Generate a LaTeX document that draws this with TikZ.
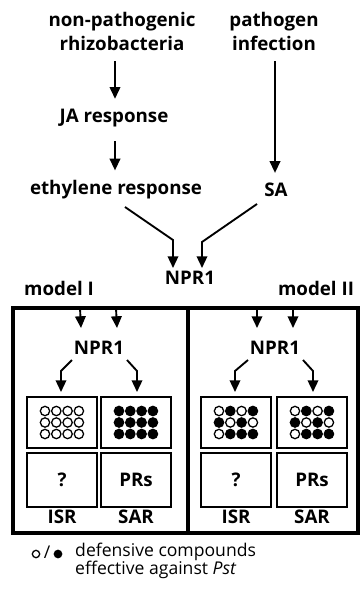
\documentclass[tikz,border=0pt]{standalone}
\usepackage{fontspec}
\setmainfont{Open Sans}
\usetikzlibrary{
  arrows.meta,
  calc,
  positioning,
}
\tikzset{
  >={Triangle[width=9pt,length=10pt]},
  lbl/.style={font=\bfseries\fontsize{16}{20.5}\selectfont, inner sep=0pt, align=center},
  npr/.style={font=\bfseries\fontsize{16}{20}\selectfont, inner sep=0pt},
  arr/.style={->, line width=1.6pt},
  panel/.style={draw, line width=3.4pt},
  cell/.style={draw, line width=1.7pt, minimum width=2.1cm, inner sep=0pt},
  dotc/.style={line width=1.1pt},
}
\newcommand{\dotgrid}[2]{
  \foreach \f [count=\k from 0] in {#2}
  {
    \pgfmathtruncatemacro{\col}{mod(\k,4)}
    \pgfmathtruncatemacro{\row}{int(\k/4)}
    \draw [dotc, fill=\f] ($(#1)+({\col*11.3-17},{\row*11.5-11.5})$) circle [radius=0.14cm];
  }
}

\begin{document}
\begin{tikzpicture}[x=0.03cm, y=-0.03cm]
  \useasboundingbox (0, 0) rectangle (361, 593);

  % upper pathways
  \node [lbl] (nonpath) at (122, 31) {non-pathogenic\\rhizobacteria};
  \node [lbl] (pathinf) at (274, 31) {pathogen\\infection};
  \node [lbl] (ja) at (114, 118) {JA response};
  \node [lbl] (eth) at (116, 190) {ethylene response};
  \node [lbl] (sa) at (276, 190) {SA};
  \node [npr] (npr) at (190, 278) {NPR1};

  \draw [arr] ($(nonpath.south -| ja.north)+(1,11)$) -- ($(ja.north)+(1,-10)$);
  \draw [arr] ($(ja.south)+(1,14)$) -- ($(eth.north -| ja.north)+(1,-10)$);
  \draw [arr] ($(pathinf.south)+(1,11)$) -- ($(sa.north)+(-1,-10)$);

  \coordinate (bendL) at ($(npr)+(-17,-38)$);
  \coordinate (bendR) at ($(npr)+(12,-36)$);
  \draw [arr] ($(eth)+(9,17)$) -- (bendL) -- ($(npr)+(-17,-10)$);
  \draw [arr] ($(sa)+(-19,14)$) -- (bendR) -- ($(npr)+(12,-10)$);

  % the two models
  \node [lbl] (mI) at (59, 288) {model I};
  \node [lbl] (mII) at (316, 288) {model II};
  \draw [panel] (13, 308) rectangle (188, 533);
  \draw [panel] (188, 308) rectangle (358, 533);
  \coordinate (rimI) at (98, 308);
  \coordinate (rimII) at (275, 308);

  \node [npr] (nprI) at (99, 348) {NPR1};
  \node [npr] (nprII) at (275, 348) {NPR1};

  \foreach \m/\a/\b in {I/62/136, II/236/312}
  {
    \node [cell, minimum height=1.53cm] (gridA\m) at (\a, 422.5) {};
    \node [cell, minimum height=1.53cm] (gridB\m) at (\b, 422.5) {};
    \node [cell, minimum height=1.62cm, lbl] (isr\m) at (\a, 480) {?};
    \node [cell, minimum height=1.62cm, lbl] (sar\m) at (\b, 480) {PRs};
    \node [lbl] (isrlbl\m) at (\a, 517) {ISR};
    \node [lbl] (sarlbl\m) at (\b, 517) {SAR};

    \draw [arr] ($(rim\m)+(-18,0)$) -- ($(npr\m)+(-18,-20)$);
    \draw [arr] ($(rim\m)+(18,0)$) -- ($(npr\m)+(18,-20)$);

    \draw [arr] ($(npr\m)+(-27,12)$) -- ($(gridA\m.north)+(-1,-25)$) -- ($(gridA\m.north)+(-1,-4)$);
    \draw [arr] ($(npr\m)+(28,12)$) -- ($(gridB\m.north)+(1,-25)$) -- ($(gridB\m.north)+(1,-4)$);
  }

  \dotgrid{gridAI}{white,white,white,white,white,white,white,white,white,white,white,white}
  \dotgrid{gridBI}{black,black,black,black,black,black,black,black,black,black,black,black}
  \dotgrid{gridAII}{white,black,white,black,black,white,black,white,white,black,black,black}
  \dotgrid{gridBII}{white,black,white,black,black,white,black,white,white,black,black,black}

  % legend
  \draw [dotc] (36, 554) circle [radius=0.11cm];
  \node [font=\fontsize{15}{15}\selectfont, inner sep=0pt] (slash) at (47, 552) {/};
  \draw [dotc, fill=black] (58, 554) circle [radius=0.11cm];
  \node [font=\fontsize{15}{15.4}\selectfont, inner sep=0pt, align=left, anchor=west] (legend) at (75, 561) {defensive compounds\\effective against \textit{Pst}};
\end{tikzpicture}
\end{document}
